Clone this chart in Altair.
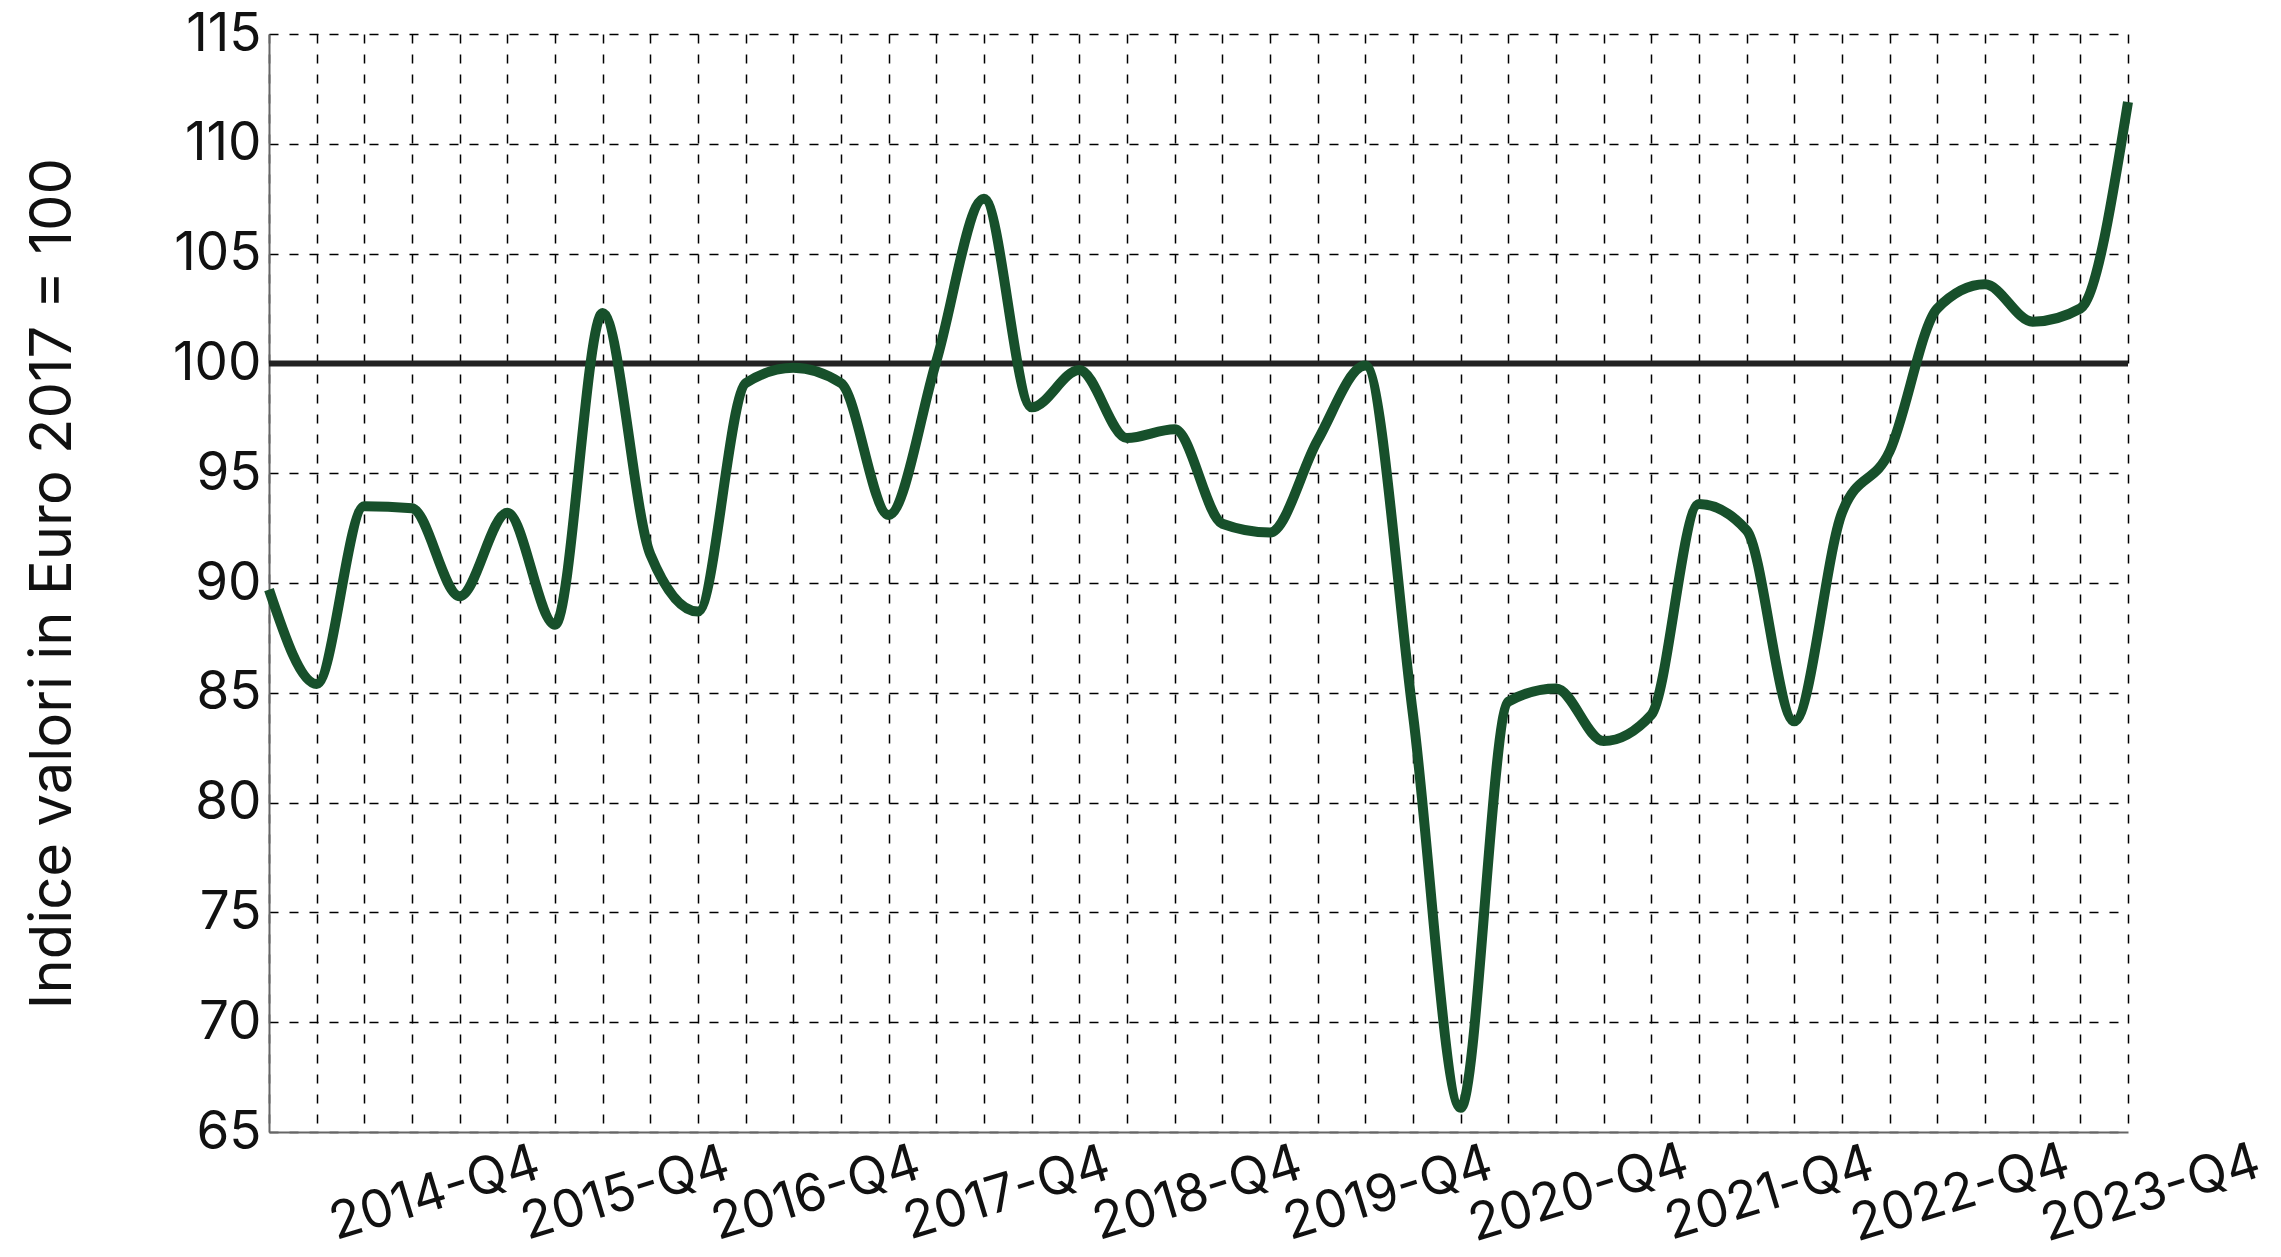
import altair as alt
import pandas as pd

years = list(range(2014, 2024))
quarters = [f"{y}-Q{q}" for y in years for q in (1, 2, 3, 4)]

index_values = [
    89.7, 85.4, 93.5, 93.4, 89.4, 93.2, 88.1, 102.3, 91.3, 88.7,
    99.1, 99.8, 99.1, 93.1, 100.1, 107.5, 98.0, 99.7, 96.6, 97.0,
    92.7, 92.3, 96.5, 99.9, 84.0, 66.1, 84.6, 85.2, 82.8, 84.0,
    93.6, 92.4, 83.7, 93.2, 96.0, 102.5, 103.6, 101.9, 102.5, 111.9,
]
reference_value = 100
y_ticks = list(range(65, 116, 5))

df = pd.DataFrame({"quarter": quarters, "value": index_values})

FONT = "Inter"
GREEN = "#17502B"

x_enc = alt.X(
    "quarter:O",
    sort=quarters,
    scale=alt.Scale(type="point", padding=0),
    axis=alt.Axis(
        title=None,
        labelExpr="indexof(datum.label, 'Q4') >= 0 ? datum.label : ''",
        labelAngle=-17,
        labelAlign="center",
        labelBaseline="top",
        labelPadding=37,
        labelOffset=15,
        labelOverlap=False,
        labelFlush=False,
        labelLimit=0,
        labelFont=FONT,
        labelFontSize=52,
        labelFontWeight=400,
        labelColor="#111",
        ticks=False,
        domainColor="#666",
        domainWidth=2,
        grid=True,
        gridColor="#000",
        gridDash=[9, 11],
        gridWidth=1.5,
    ),
)

y_scale = alt.Scale(domain=[65, 115], nice=False, zero=False)

base_line = alt.Chart(df).mark_line(
    color=GREEN, strokeWidth=10, interpolate="monotone"
).encode(
    x=x_enc,
    y=alt.Y(
        "value:Q",
        scale=y_scale,
        axis=alt.Axis(
            values=y_ticks,
            title="Indice valori in Euro 2017 = 100",
            titleFont=FONT,
            titleFontSize=58,
            titleFontWeight=400,
            titleColor="#111",
            titleX=-216,
            titleY=549,
            titleAngle=-90,
            titleAlign="center",
            titleBaseline="middle",
            labelFont=FONT,
            labelFontSize=53,
            labelFontWeight=400,
            labelColor="#111",
            labelPadding=8,
            ticks=False,
            domainColor="#666",
            domainWidth=2,
            grid=True,
            gridColor="#000",
            gridDash=[9, 11],
            gridWidth=1.5,
        ),
    ),
)

ref_rule = alt.Chart(pd.DataFrame({"ref": [reference_value]})).mark_rule(
    color="#222", strokeWidth=6
).encode(y=alt.Y("ref:Q", scale=y_scale))

chart = alt.layer(ref_rule, base_line).properties(
    width=1859,
    height=1098,
    autosize=alt.AutoSizeParams(type="none"),
    padding={"left": 261, "top": 26, "right": 145, "bottom": 124},
).configure_view(stroke=None)

chart.save("out.html", embed_options={"renderer": "svg", "actions": False})
